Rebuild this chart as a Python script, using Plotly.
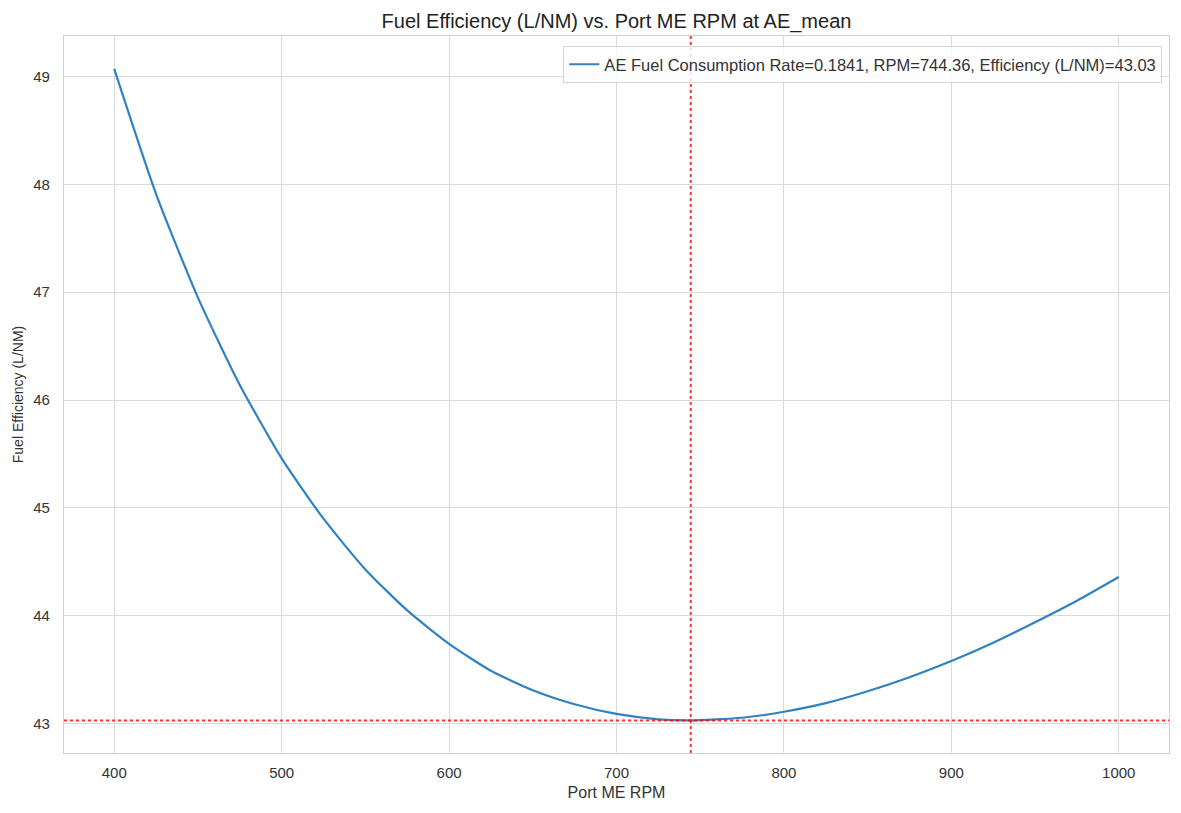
import plotly.graph_objects as go

# values
rpm = [400, 425, 450, 475, 500, 525, 550, 575, 600, 625, 650, 675, 700, 725, 744.36,
       775, 800, 825, 850, 875, 900, 925, 950, 975, 1000]
efficiency = [49.07, 47.91, 46.95, 46.14, 45.46, 44.90, 44.43, 44.05, 43.74, 43.49, 43.31, 43.18, 43.09,
              43.04, 43.03, 43.055, 43.11, 43.19, 43.30, 43.43, 43.58, 43.75, 43.94, 44.14, 44.36]

opt_rpm = 744.36
opt_eff = 43.03
ae_rate = 0.1841

x_ticks = [400, 500, 600, 700, 800, 900, 1000]
y_ticks = [43, 44, 45, 46, 47, 48, 49]

font_family = "Liberation Sans, Arial, sans-serif"
text_grey = "#333333"

fig = go.Figure()
fig.add_trace(go.Scatter(
    x=rpm, y=efficiency,
    mode="lines",
    line=dict(color="#3182c0", width=2.2, shape="spline", smoothing=0.6),
    name="AE Fuel Consumption Rate={:.4f}, RPM={:.2f}, Efficiency (L/NM)={:.2f}".format(ae_rate, opt_rpm, opt_eff),
))

# optimum markers
fig.add_vline(x=opt_rpm, line=dict(color="rgba(255,0,0,0.8)", width=2, dash="dot"))
fig.add_hline(y=opt_eff, line=dict(color="rgba(255,0,0,0.8)", width=2, dash="dot"))

axis_style = dict(
    showgrid=True, gridcolor="#dadada", gridwidth=1.3,
    showline=True, linecolor="#d0d0d0", linewidth=1.3, mirror=True,
    zeroline=False, ticks="", tickfont=dict(size=15, color=text_grey),
    automargin=False,
)

fig.update_layout(
    width=1181, height=813,
    margin=dict(l=56, r=20, t=28, b=68),
    paper_bgcolor="white", plot_bgcolor="white",
    font=dict(family=font_family, color="#222222"),
    title=dict(text="Fuel Efficiency (L/NM) vs. Port ME RPM at AE_mean",
               xref="paper", x=0.5, xanchor="center", y=0.993, yanchor="top",
               font=dict(size=20, color="#222222")),
    showlegend=True,
    legend=dict(x=0.994, y=0.986, xanchor="right", yanchor="top",
                bgcolor="rgba(255,255,255,0.85)", bordercolor="#d5d5d5", borderwidth=1,
                font=dict(size=16.5, color=text_grey)),
)
fig.update_xaxes(range=[370, 1030], tickvals=x_ticks, ticklabelstandoff=6,
                 title=dict(text="Port ME RPM", font=dict(size=16, color=text_grey), standoff=6),
                 **axis_style)
fig.update_yaxes(range=[42.728, 49.375], tickvals=y_ticks, ticklabelstandoff=10,
                 title=dict(text="Fuel Efficiency (L/NM)", font=dict(size=14, color=text_grey), standoff=6),
                 **axis_style)

fig.write_html("out.html")
